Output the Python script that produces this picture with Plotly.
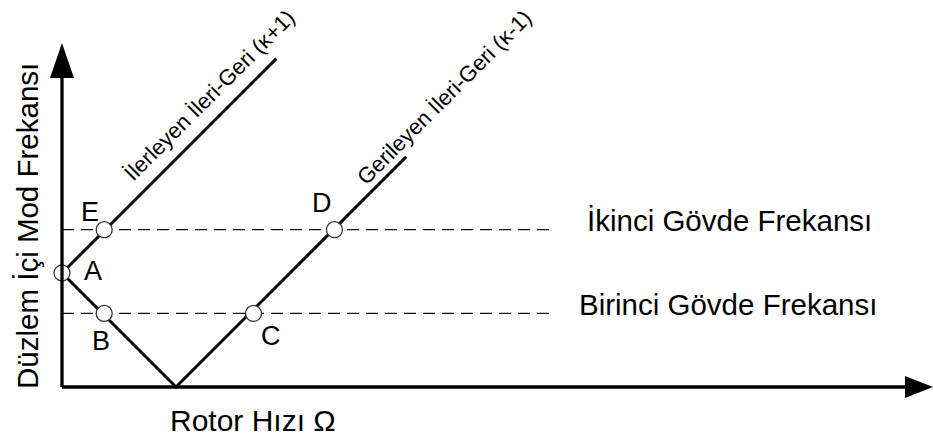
import plotly.graph_objects as go

# --- data (rotor speed and in-plane mode frequency, normalised so that A = 1) ---
forward_omega = [0.0, 1.88]          # progressive whirl (k+1)
forward_freq = [1.0, 2.88]
backward_omega = [0.0, 1.0, 3.02]    # regressive whirl (k-1)
backward_freq = [1.0, 0.0, 2.02]
body_freqs = [0.645, 1.38]           # first / second body frequency
body_names = ["Birinci Gövde Frekansı", "İkinci Gövde Frekansı"]
body_omega_end = 4.3
point_names = ["A", "B", "C", "D", "E"]
point_omega = [0.0, 0.37, 1.68, 2.39, 0.37]
point_freq = [1.0, 0.645, 0.645, 1.38, 1.38]

# --- page geometry ---
W, H = 933, 441
X0_PX, Y0_PX = 62, 387      # origin position on the page
S = 114.0                   # pixels per unit
x_range = [-X0_PX / S, (W - X0_PX) / S]
y_range = [(Y0_PX - H) / S, Y0_PX / S]

FONT = "Liberation Sans, Arial, Helvetica, sans-serif"


def px(v):
    return v / S


def page_x(p):
    return (p - X0_PX) / S


def page_y(p):
    return (Y0_PX - p) / S


fig = go.Figure()

# body-frequency reference lines (dashed)
for f in body_freqs:
    fig.add_trace(go.Scatter(
        x=[0.0, body_omega_end], y=[f, f], mode="lines",
        line=dict(color="#111", width=1.3, dash="12px,7px"),
        hoverinfo="skip", showlegend=False))

# whirl lines
fig.add_trace(go.Scatter(x=forward_omega, y=forward_freq, mode="lines",
                         line=dict(color="black", width=3),
                         hoverinfo="skip", showlegend=False))
fig.add_trace(go.Scatter(x=backward_omega, y=backward_freq, mode="lines",
                         line=dict(color="black", width=3),
                         hoverinfo="skip", showlegend=False))

# axes with arrow heads
x_tip = x_range[1]
y_tip = page_y(43)
fig.add_shape(type="line", x0=0, y0=0, x1=x_tip - px(20), y1=0,
              line=dict(color="black", width=3.3))
fig.add_shape(type="line", x0=0, y0=0, x1=0, y1=y_tip - px(20),
              line=dict(color="black", width=3.3))
fig.add_shape(type="path",
              path=f"M {x_tip} 0 L {x_tip - px(28)} {px(11)} L {x_tip - px(28)} {-px(11)} Z",
              fillcolor="black", line=dict(color="black", width=0))
fig.add_shape(type="path",
              path=f"M 0 {y_tip} L {-px(12)} {y_tip - px(35)} L {px(12)} {y_tip - px(35)} Z",
              fillcolor="black", line=dict(color="black", width=0))

# intersection points
fig.add_trace(go.Scatter(x=point_omega, y=point_freq, mode="markers",
                         marker=dict(size=16, color="white",
                                     line=dict(color="#333", width=1.3)),
                         hoverinfo="skip", showlegend=False))

# point letters, offset from each marker (pixels)
label_shift = {"A": (31, 2), "B": (-3, -28), "C": (17, -23),
               "D": (-12, 27), "E": (-14, 18)}
for name, xo, yo in zip(point_names, point_omega, point_freq):
    dx, dy = label_shift[name]
    fig.add_annotation(x=xo, y=yo, text=name, showarrow=False,
                       xshift=dx, yshift=dy,
                       font=dict(family=FONT, size=27, color="black"))

# body-frequency captions
caption_left = [577, 585]
for f, name, left in zip(body_freqs, body_names, caption_left):
    fig.add_annotation(x=page_x(left), y=f, text=name,
                       showarrow=False, xanchor="left", yshift=9,
                       font=dict(family=FONT, size=29.5, color="black"))

# whirl captions along the lines
fig.add_annotation(x=page_x(209), y=page_y(95), text="İlerleyen İleri-Geri (κ+1)",
                   showarrow=False, textangle=-45,
                   font=dict(family=FONT, size=22, color="black"))
fig.add_annotation(x=page_x(444), y=page_y(97), text="Gerileyen İleri-Geri (κ-1)",
                   showarrow=False, textangle=-45,
                   font=dict(family=FONT, size=22, color="black"))

# axis titles
fig.add_annotation(x=page_x(253), y=page_y(420), text="Rotor Hızı Ω",
                   showarrow=False,
                   font=dict(family=FONT, size=30, color="black"))
fig.add_annotation(x=page_x(27), y=page_y(226), text="Düzlem İçi Mod Frekansı",
                   showarrow=False, textangle=-90,
                   font=dict(family=FONT, size=29.5, color="black"))

fig.update_layout(
    width=W, height=H,
    margin=dict(l=0, r=0, t=0, b=0),
    paper_bgcolor="white", plot_bgcolor="white",
    xaxis=dict(range=x_range, visible=False, fixedrange=True),
    yaxis=dict(range=y_range, visible=False, fixedrange=True),
    showlegend=False,
)

fig.write_html("out.html")
